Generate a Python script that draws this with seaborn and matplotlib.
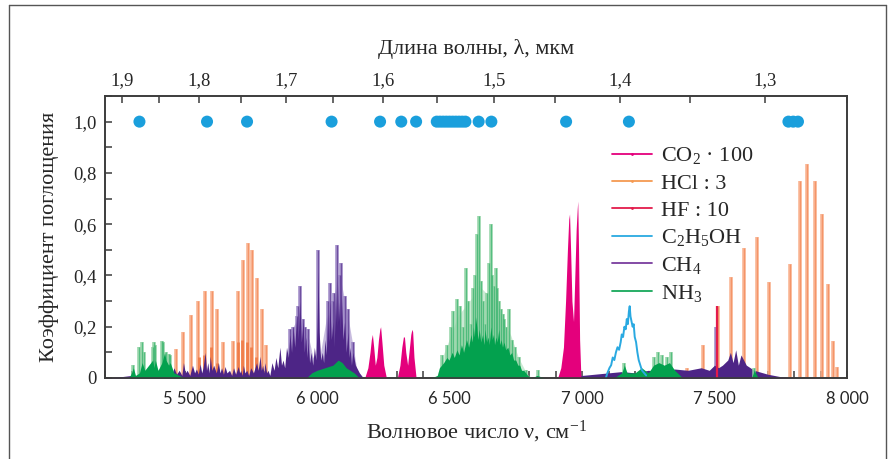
import numpy as np
import pandas as pd
import matplotlib
matplotlib.use("Agg")
import matplotlib.pyplot as plt
from matplotlib.lines import Line2D
from matplotlib.ticker import MultipleLocator, FixedLocator, FuncFormatter
import seaborn as sns

# ---------------- data ----------------
# markers at absorption 1.0 (wavenumber, cm-1)
dot_nu = [5330, 5585, 5736, 6055, 6238, 6318, 6374, 6452, 6464, 6476, 6488,
          6500, 6512, 6524, 6536, 6548, 6560, 6610, 6658, 6940, 7177,
          7779, 7797, 7815]

# HCl : 3 -- main isotope lines
hcl_nu = [5469, 5496, 5524, 5550, 5577, 5603, 5624, 5647, 5684, 5703, 5720,
          5738, 5755, 5772, 5791, 5806,
          7396, 7456, 7512, 7564, 7612, 7661, 7705, 7785, 7821, 7850, 7880,
          7905, 7930, 7946, 7962]
hcl_val = [0.115, 0.18, 0.245, 0.30, 0.34, 0.34, 0.27, 0.14, 0.145, 0.34, 0.46,
           0.525, 0.50, 0.39, 0.27, 0.13,
           0.04, 0.13, 0.28, 0.394, 0.507, 0.55, 0.375, 0.444, 0.77, 0.835,
           0.77, 0.638, 0.365, 0.144, 0.044]
# HCl weaker isotope lines (darker)
hcl2_nu = [5553, 5575, 5600, 5622, 5700, 5717, 5735, 5752, 5770]
hcl2_val = [0.08, 0.09, 0.12, 0.06, 0.14, 0.15, 0.14, 0.12, 0.08]

# HF : 10
hf_nu = [7510]
hf_val = [0.28]

# CH4 dense envelope
ch4_env_nu = [5200, 5260, 5300, 5350, 5400, 5440, 5452, 5460, 5470, 5480, 5490,
              5496, 5503, 5510, 5520, 5530, 5538, 5545, 5552, 5559, 5565, 5570,
              5578, 5583, 5588, 5593, 5597, 5603, 5610, 5620, 5628, 5634, 5640,
              5647, 5653, 5660, 5670, 5678, 5685, 5693, 5703, 5708, 5712, 5718,
              5722, 5728, 5735, 5742, 5750, 5760, 5772, 5778, 5785, 5790, 5795,
              5800, 5803, 5810, 5815, 5822, 5830, 5838, 5845, 5852, 5860, 5866,
              5872, 5878, 5885, 5892, 5898, 5904, 5910, 5916, 5923, 5929, 5935,
              5941, 5947, 5952, 5958, 5962, 5966, 5972, 5978, 5984, 5990, 5996,
              6000, 6004, 6008, 6014, 6020, 6025, 6030, 6035, 6040, 6044, 6048,
              6054, 6060, 6065, 6070, 6074, 6077, 6081, 6085, 6088, 6092, 6098,
              6104, 6110, 6117, 6121, 6125, 6130, 6135, 6145, 6160, 6175, 6900,
              6920, 7000, 7050, 7100, 7150, 7200, 7250, 7300, 7350, 7400, 7450,
              7480, 7500, 7515, 7530, 7550, 7560, 7570, 7580, 7590, 7600, 7620,
              7650, 7700, 7750, 7800]
ch4_env_val = [0.0, 0.005, 0.01, 0.01, 0.015, 0.02, 0.01, 0.04, 0.015, 0.03, 0.01,
               0.06, 0.02, 0.03, 0.01, 0.05, 0.02, 0.035, 0.015, 0.055, 0.02, 0.04,
               0.10, 0.03, 0.06, 0.02, 0.085, 0.03, 0.05, 0.02, 0.06, 0.02, 0.04,
               0.015, 0.045, 0.02, 0.03, 0.01, 0.04, 0.015, 0.045, 0.02, 0.03, 0.01,
               0.05, 0.02, 0.03, 0.01, 0.04, 0.02, 0.06, 0.03, 0.085, 0.03, 0.05,
               0.02, 0.06, 0.02, 0.03, 0.01, 0.06, 0.03, 0.08, 0.04, 0.12, 0.05,
               0.07, 0.04, 0.12, 0.08, 0.17, 0.10, 0.20, 0.12, 0.24, 0.15, 0.30,
               0.14, 0.22, 0.10, 0.16, 0.08, 0.14, 0.06, 0.10, 0.05, 0.12, 0.07,
               0.20, 0.42, 0.18, 0.07, 0.10, 0.06, 0.15, 0.09, 0.25, 0.14, 0.30,
               0.15, 0.22, 0.12, 0.35, 0.20, 0.38, 0.22, 0.30, 0.18, 0.33, 0.15,
               0.22, 0.10, 0.18, 0.08, 0.12, 0.05, 0.10, 0.05, 0.02, 0.0, 0.0,
               0.005, 0.01, 0.015, 0.02, 0.025, 0.02, 0.03, 0.025, 0.035, 0.03, 0.04,
               0.03, 0.05, 0.04, 0.05, 0.07, 0.10, 0.06, 0.11, 0.05, 0.09, 0.05,
               0.03, 0.015, 0.005, 0.0]
# CH4 light (weaker-resolved) envelope
ch4_lt_nu = [5880, 5895, 5905, 5920, 5935, 5950, 5970, 5985, 6000, 6010, 6030,
             6045, 6060, 6075, 6090, 6105, 6120, 6140, 6155]
ch4_lt_val = [0.0, 0.15, 0.19, 0.22, 0.26, 0.20, 0.15, 0.08, 0.10, 0.08, 0.20,
              0.30, 0.28, 0.40, 0.38, 0.30, 0.22, 0.10, 0.0]
# CH4 individual tall lines
ch4_nu = [5898, 5910, 5923, 5930, 5935, 5947, 5955, 5966, 6004, 6040, 6048,
          6060, 6066, 6077, 6085, 6092, 6104, 6117, 6135, 7505]
ch4_val = [0.19, 0.20, 0.24, 0.28, 0.36, 0.23, 0.20, 0.19, 0.50, 0.30, 0.37,
           0.30, 0.33, 0.52, 0.40, 0.45, 0.32, 0.27, 0.14, 0.20]

# NH3 dense envelope
nh3_env_nu = [5290, 5300, 5307, 5315, 5330, 5340, 5350, 5380, 5385, 5390, 5400,
              5415, 5425, 5430, 5440, 5446, 5460, 5480, 5500, 5960, 5980, 6000,
              6030, 6060, 6080, 6095, 6110, 6140, 6160, 6430, 6454, 6462, 6470,
              6478, 6490, 6498, 6510, 6518, 6528, 6536, 6545, 6553, 6564, 6572,
              6581, 6586, 6590, 6594, 6598, 6603, 6607, 6612, 6618, 6625, 6630,
              6634, 6640, 6645, 6650, 6656, 6661, 6666, 6670, 6675, 6680, 6686,
              6690, 6695, 6700, 6706, 6712, 6720, 6728, 6735, 6742, 6750, 6758,
              6765, 6772, 6780, 6795, 6810, 6830, 6860, 7120, 7150, 7160, 7170,
              7200, 7225, 7250, 7270, 7290, 7310, 7330, 7350, 7380, 7640, 7650,
              7665]
nh3_env_val = [0.0, 0.02, 0.04, 0.01, 0.02, 0.06, 0.03, 0.07, 0.04, 0.07, 0.03,
               0.06, 0.10, 0.07, 0.05, 0.06, 0.02, 0.01, 0.0, 0.0, 0.02, 0.03,
               0.04, 0.05, 0.07, 0.06, 0.04, 0.02, 0.0, 0.0, 0.01, 0.04, 0.05,
               0.06, 0.08, 0.07, 0.10, 0.08, 0.11, 0.09, 0.13, 0.10, 0.15, 0.12,
               0.17, 0.14, 0.20, 0.16, 0.24, 0.20, 0.15, 0.19, 0.14, 0.17, 0.13,
               0.19, 0.14, 0.16, 0.13, 0.20, 0.15, 0.17, 0.13, 0.16, 0.14, 0.19,
               0.13, 0.15, 0.12, 0.14, 0.11, 0.12, 0.09, 0.10, 0.07, 0.07, 0.05,
               0.05, 0.03, 0.03, 0.01, 0.0, 0.01, 0.0, 0.0, 0.02, 0.05, 0.02,
               0.02, 0.04, 0.02, 0.05, 0.06, 0.05, 0.06, 0.03, 0.0, 0.0, 0.03,
               0.0]
# NH3 light envelope
nh3_lt_nu = [6450, 6480, 6510, 6530, 6560, 6590, 6610, 6640, 6660, 6680, 6700,
             6730, 6760, 6790, 6810]
nh3_lt_val = [0.0, 0.10, 0.18, 0.24, 0.28, 0.32, 0.36, 0.33, 0.36, 0.29, 0.22,
              0.17, 0.08, 0.02, 0.0]
# NH3 individual lines
nh3_nu = [5307, 5330, 5340, 5346, 5380, 5385, 5390, 5415, 5420, 5430, 5440, 5446,
          6470, 6490, 6505, 6515, 6528, 6540, 6552, 6564, 6570, 6581, 6590, 6596,
          6603, 6612, 6620, 6628, 6634, 6642, 6648, 6656, 6662, 6668, 6675, 6681,
          6688, 6693, 6700, 6706, 6715, 6725, 6735, 6747, 6762, 6790, 6835,
          7160, 7270, 7285, 7300, 7320, 7335, 7650]
nh3_val = [0.05, 0.12, 0.14, 0.10, 0.12, 0.14, 0.13, 0.145, 0.14, 0.10, 0.095, 0.09,
           0.09, 0.13, 0.20, 0.26, 0.31, 0.28, 0.20, 0.43, 0.30, 0.21, 0.35, 0.40,
           0.56, 0.63, 0.38, 0.30, 0.21, 0.33, 0.45, 0.60, 0.40, 0.36, 0.43, 0.35,
           0.30, 0.27, 0.25, 0.23, 0.20, 0.27, 0.15, 0.12, 0.08, 0.03, 0.03,
           0.06, 0.08, 0.10, 0.09, 0.08, 0.10, 0.04]

# CO2 * 100 envelope
co2_nu = [6180, 6192, 6200, 6205, 6209, 6214, 6220, 6226, 6232, 6237, 6240, 6245,
          6252, 6262,
          6303, 6313, 6320, 6326, 6330, 6335, 6342, 6348, 6354, 6358, 6361, 6366, 6374,
          6908, 6920, 6930, 6938, 6945, 6950, 6953, 6957, 6962, 6968, 6973, 6978,
          6982, 6984, 6987, 6991, 6996]
co2_val = [0.0, 0.04, 0.10, 0.15, 0.17, 0.12, 0.05, 0.08, 0.15, 0.19, 0.20, 0.14,
           0.05, 0.0,
           0.0, 0.05, 0.12, 0.16, 0.16, 0.10, 0.05, 0.11, 0.17, 0.19, 0.18, 0.08, 0.0,
           0.0, 0.04, 0.12, 0.30, 0.50, 0.62, 0.64, 0.50, 0.30, 0.22, 0.40, 0.58,
           0.66, 0.69, 0.50, 0.15, 0.0]

# C2H5OH
eth_nu = [7090, 7096, 7104, 7110, 7116, 7122, 7128, 7134, 7140, 7146, 7150, 7155,
          7160, 7165, 7169, 7173, 7177, 7180, 7183, 7187, 7191, 7195, 7199, 7204,
          7209, 7214, 7220, 7226, 7234, 7242]
eth_val = [0.0, 0.02, 0.04, 0.05, 0.08, 0.07, 0.10, 0.12, 0.11, 0.14, 0.17, 0.16,
           0.20, 0.19, 0.23, 0.21, 0.26, 0.28, 0.24, 0.22, 0.20, 0.21, 0.16, 0.14,
           0.10, 0.07, 0.05, 0.03, 0.02, 0.01]

wl_major = [1.9, 1.8, 1.7, 1.6, 1.5, 1.4, 1.3]
wl_minor = [1.85, 1.75, 1.65, 1.55, 1.45, 1.35, 1.25]

legend_labels = [r'CO$_2$ · 100', 'HCl : 3', 'HF : 10', r'C$_2$H$_5$OH',
                 r'CH$_4$', r'NH$_3$']

# ---------------- style ----------------
sns.set_theme(style="ticks")
plt.rcParams['font.family'] = ['Liberation Serif', 'DejaVu Serif']
plt.rcParams['mathtext.fontset'] = 'custom'
plt.rcParams['mathtext.rm'] = 'Liberation Serif'
plt.rcParams['mathtext.it'] = 'Liberation Serif:italic'

C_CO2 = '#e4007c'
C_HCL = '#f9ae8a'
C_HCL2 = '#f07a45'
C_HF = '#e31b4b'
C_ETH = '#29a9e1'
C_CH4 = '#4d2586'
C_CH4L = '#9a84c4'
C_NH3 = '#03a14e'
C_NH3L = '#8ed2a2'
C_DOT = '#1a9fdc'
SPINE = '#3c3c3c'

fig = plt.figure(figsize=(8.93, 4.59), dpi=100)
ax = fig.add_axes([105/893, 81/459, 742/893, 282/459])

# HCl
ax.vlines(hcl_nu, 0, hcl_val, colors=C_HCL, lw=2.6, alpha=0.9, zorder=1)
ax.vlines(hcl_nu, 0, hcl_val, colors=C_HCL2, lw=0.9, alpha=0.55, zorder=1)
ax.vlines(hcl2_nu, 0, hcl2_val, colors=C_HCL2, lw=2.0, alpha=0.9, zorder=1)

# CH4
ax.fill_between(ch4_lt_nu, 0, ch4_lt_val, color=C_CH4L, alpha=0.55, lw=0, zorder=2)
ax.vlines(ch4_nu, 0, ch4_val, colors=C_CH4L, lw=2.6, alpha=0.9, zorder=2)
ax.fill_between(ch4_env_nu, 0, ch4_env_val, color=C_CH4, lw=0, zorder=3)
ax.vlines(ch4_nu, 0, ch4_val, colors=C_CH4, lw=0.9, alpha=0.6, zorder=3)

# NH3
ax.fill_between(nh3_lt_nu, 0, nh3_lt_val, color=C_NH3L, alpha=0.45, lw=0, zorder=4)
ax.vlines(nh3_nu, 0, nh3_val, colors=C_NH3L, lw=2.6, alpha=0.9, zorder=4)
ax.fill_between(nh3_env_nu, 0, nh3_env_val, color=C_NH3, lw=0, zorder=5)
ax.vlines(nh3_nu, 0, nh3_val, colors=C_NH3, lw=0.8, alpha=0.45, zorder=5)

# CO2
ax.fill_between(co2_nu, 0, co2_val, color=C_CO2, lw=0, zorder=6)

# HF
ax.vlines(hf_nu, 0, hf_val, colors=C_HF, lw=1.6, zorder=6)

# C2H5OH
eth_df = pd.DataFrame({'nu': eth_nu, 'val': eth_val})
sns.lineplot(data=eth_df, x='nu', y='val', ax=ax, color=C_ETH, lw=1.4, zorder=7)

# dots at 1.0
dots_df = pd.DataFrame({'nu': dot_nu, 'val': [1.0] * len(dot_nu)})
sns.scatterplot(data=dots_df, x='nu', y='val', ax=ax, color=C_DOT, s=75,
                edgecolor='none', zorder=8, legend=False)

# axes limits / ticks
ax.set_xlim(5200, 8000)
ax.set_ylim(0, 1.1)
ax.xaxis.set_major_locator(MultipleLocator(500))
ax.xaxis.set_minor_locator(MultipleLocator(100))
ax.yaxis.set_major_locator(MultipleLocator(0.2))
ax.yaxis.set_minor_locator(MultipleLocator(0.1))
ax.xaxis.set_major_formatter(FuncFormatter(lambda v, p: f"{int(v):,}".replace(',', ' ')))
ax.yaxis.set_major_formatter(FuncFormatter(lambda v, p: '0' if abs(v) < 1e-9 else f"{v:.1f}".replace('.', ',')))
ax.tick_params(axis='both', which='both', direction='in', length=5, width=1.1,
               color=SPINE, top=False, right=False)
ax.tick_params(axis='x', which='major', labelsize=12, pad=9)
ax.tick_params(axis='y', which='major', labelsize=13.5, pad=6)
for lab in ax.get_xticklabels():
    lab.set_family('Lato')
for sp in ax.spines.values():
    sp.set_color(SPINE)
    sp.set_linewidth(1.2)
ax.set_xlabel('Волновое число ν, см$^{-1}$', fontsize=16, labelpad=9)
ax.set_ylabel('Коэффициент поглощения', fontsize=16, labelpad=10)

# top wavelength axis
ax2 = ax.twiny()
ax2.set_xlim(ax.get_xlim())
ax2.xaxis.set_major_locator(FixedLocator([1e4 / w for w in wl_major]))
ax2.xaxis.set_minor_locator(FixedLocator([1e4 / w for w in wl_minor]))
ax2.set_xticklabels([f"{w:.1f}".replace('.', ',') for w in wl_major])
ax2.tick_params(axis='x', which='both', direction='in', length=5, width=1.1,
                color=SPINE, labelsize=13.5, pad=5)
for sp in ax2.spines.values():
    sp.set_color(SPINE)
    sp.set_linewidth(1.2)
ax2.set_xlabel('Длина волны, λ, мкм', fontsize=16, labelpad=13)

# legend
handles = [
    Line2D([0], [0], color=C_CO2, lw=1.3, marker='.', markersize=2),
    Line2D([0], [0], color='#f59a52', lw=1.3, marker='.', markersize=2),
    Line2D([0], [0], color=C_HF, lw=1.3, marker='.', markersize=2),
    Line2D([0], [0], color=C_ETH, lw=1.3),
    Line2D([0], [0], color='#7a3d9e', lw=1.3),
    Line2D([0], [0], color='#17a85a', lw=1.3),
]
ax.legend(handles, legend_labels, loc='upper left', bbox_to_anchor=(0.683, 0.825),
          frameon=False, fontsize=16, handlelength=1.8, handletextpad=0.4,
          labelspacing=0.3, borderpad=0, borderaxespad=0)

# outer frame
for xs, ys in [([9/893, 9/893], [0, 1 - 5/459]),
               ([9/893, 886/893], [1 - 5/459, 1 - 5/459]),
               ([886/893, 886/893], [0, 1 - 5/459])]:
    fig.add_artist(Line2D(xs, ys, color='#555555', lw=1.0, transform=fig.transFigure))

fig.savefig('out.png', dpi=100)
